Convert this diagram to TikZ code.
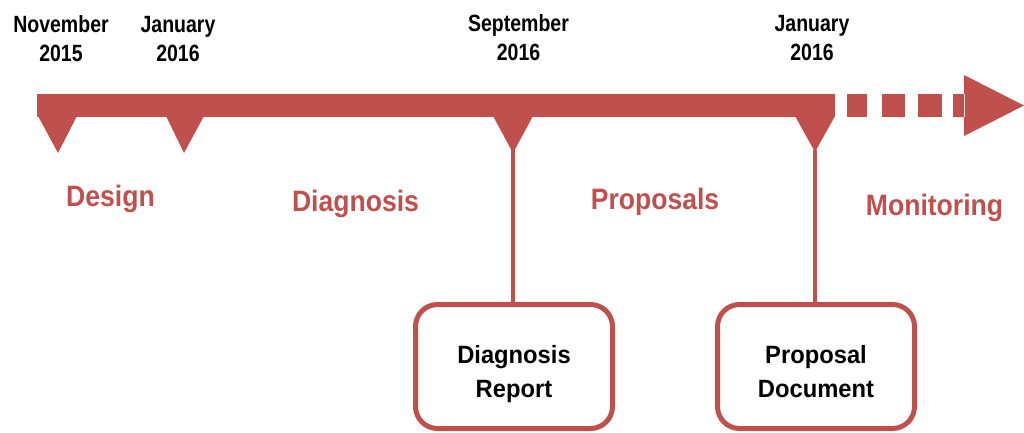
\documentclass[tikz,border=0pt]{standalone}
\usepackage{fontspec}
\newfontfamily\datefont{Liberation Sans Bold}[FakeStretch=0.83]
\newfontfamily\phasefont{Liberation Sans Bold}[FakeStretch=0.9]
\newfontfamily\boxfont{Liberation Sans Bold}[FakeStretch=0.95]
\definecolor{tlred}{HTML}{C0504D}
\begin{document}
\begin{tikzpicture}[x=1pt,y=-1pt,
  datelabel/.style={font=\datefont\fontsize{23.5}{29}\selectfont, text=black, align=center, inner sep=0pt, anchor=base},
  phaselabel/.style={font=\phasefont\fontsize{29.5}{34}\selectfont, text=tlred, inner sep=0pt, anchor=base},
  docbox/.style={draw=tlred, line width=5pt, rounded corners=22pt, fill=white,
    minimum width=197pt, minimum height=124pt},
  doctext/.style={align=center, text=black, inner sep=0pt,
    font=\boxfont\fontsize{25}{34}\selectfont},
  stem/.style={draw=tlred, line width=4.5pt}]
\useasboundingbox (0,0) rectangle (1024,432);

% main bar of the timeline
\fill[tlred] (37,94) rectangle (835,117);
% milestone markers below the bar
\fill[tlred] (38,116) -- (77,116) -- (58,153) -- cycle;
\fill[tlred] (166,116) -- (204,116) -- (184,153) -- cycle;
\fill[tlred] (493,116) -- (533,116) -- (513,153) -- cycle;
\fill[tlred] (795,116) -- (835,116) -- (815,152) -- cycle;
\coordinate (m3) at (513,150);
\coordinate (m4) at (815,150);
% dashed continuation and arrow head
\fill[tlred] (847,94) rectangle (867,117);
\fill[tlred] (882,94) rectangle (905,117);
\fill[tlred] (918,94) rectangle (942,117);
\fill[tlred] (953,94) rectangle (965,117) (964,75) -- (1024,105.5) -- (964,136) -- cycle;

% dates (anchored on the baseline of the year line)
\node[datelabel] (d1) at (61,61) {November\\2015};
\node[datelabel] (d2) at (178,61) {January\\2016};
\node[datelabel] (d3) at (518.5,60) {September\\2016};
\node[datelabel] (d4) at (812,60) {January\\2016};

% phases
\node[phaselabel] (p1) at (110.5,206) {Design};
\node[phaselabel] (p2) at (355.5,211) {Diagnosis};
\node[phaselabel] (p3) at (655,209) {Proposals};
\node[phaselabel] (p4) at (934.5,215) {Monitoring};

% deliverables
\node[docbox] (b1) at (514,366.5) {};
\node[docbox] (b2) at (816,366.5) {};
\node[doctext] (t1) at (b1.center) [yshift=-8pt] {Diagnosis\\Report};
\node[doctext] (t2) at (b2.center) [yshift=-5pt] {Proposal\\Document};
\draw[stem] (m3) -- (b1.north -| m3);
\draw[stem] (m4) -- (b2.north -| m4);
\end{tikzpicture}
\end{document}
